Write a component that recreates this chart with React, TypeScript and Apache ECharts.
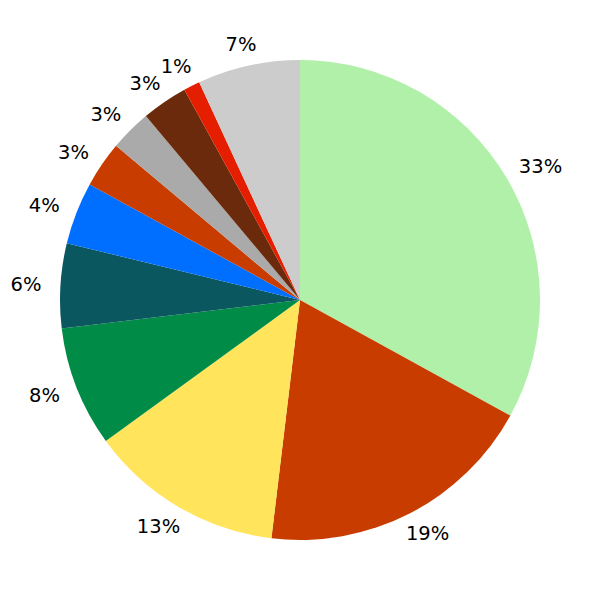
import React, { useEffect, useRef } from "react";
import * as echarts from "echarts";

// Slice names (not shown in the chart) and their shares, clockwise from 12 o'clock
const sliceNames = ["A", "B", "C", "D", "E", "F", "G", "H", "I", "J", "K"];
const sliceValues = [33.0, 18.9, 13.1, 8.1, 5.7, 4.2, 3.1, 2.8, 3.1, 1.1, 6.9];
const sliceColors = [
  "#b1f0a9",
  "#c93c00",
  "#ffe45c",
  "#008c46",
  "#0b5760",
  "#006eff",
  "#c93c00",
  "#aaaaaa",
  "#6b2a0b",
  "#e61e00",
  "#cccccc",
];

const RADIUS = 240;
const LABEL_DIST = 1.092;

export default function App() {
  const ref = useRef<HTMLDivElement>(null);

  useEffect(() => {
    if (!ref.current) return;
    const chart = echarts.init(ref.current, null, { renderer: "svg" });
    const total = sliceValues.reduce((a, b) => a + b, 0);

    chart.setOption({
      animation: false,
      backgroundColor: "#ffffff",
      series: [
        {
          type: "pie",
          center: ["50%", "50%"],
          radius: [0, RADIUS],
          startAngle: 90,
          clockwise: true,
          silent: true,
          percentPrecision: 0,
          avoidLabelOverlap: false,
          itemStyle: { borderWidth: 0 },
          emphasis: { disabled: true },
          label: {
            show: true,
            position: "outside",
            formatter: "{d}%",
            color: "#000000",
            fontFamily: "DejaVu Sans",
            fontSize: 19.5,
          },
          labelLine: { show: false, length: 0, length2: 0 },
          labelLayout: (p: any) => {
            const idx = p.dataIndex;
            let before = 0;
            for (let i = 0; i < idx; i++) before += sliceValues[i];
            const mid = ((before + sliceValues[idx] / 2) / total) * Math.PI * 2;
            const s = Math.sin(mid);
            const d = -Math.cos(mid);
            const cx = chart.getWidth() / 2;
            const cy = chart.getHeight() / 2;
            const w = p.labelRect ? p.labelRect.width : 30;
            return {
              x: cx + LABEL_DIST * RADIUS * s + 0.4 * w * s,
              y: cy + LABEL_DIST * RADIUS * d,
              align: "center",
              verticalAlign: "middle",
            };
          },
          data: sliceValues.map((v, i) => ({
            name: sliceNames[i],
            value: v,
            itemStyle: { color: sliceColors[i] },
          })),
        },
      ],
    });

    return () => {
      chart.dispose();
    };
  }, []);

  return (
    <div
      ref={ref}
      style={{ position: "fixed", left: 0, top: 0, width: 600, height: 600 }}
    />
  );
}
